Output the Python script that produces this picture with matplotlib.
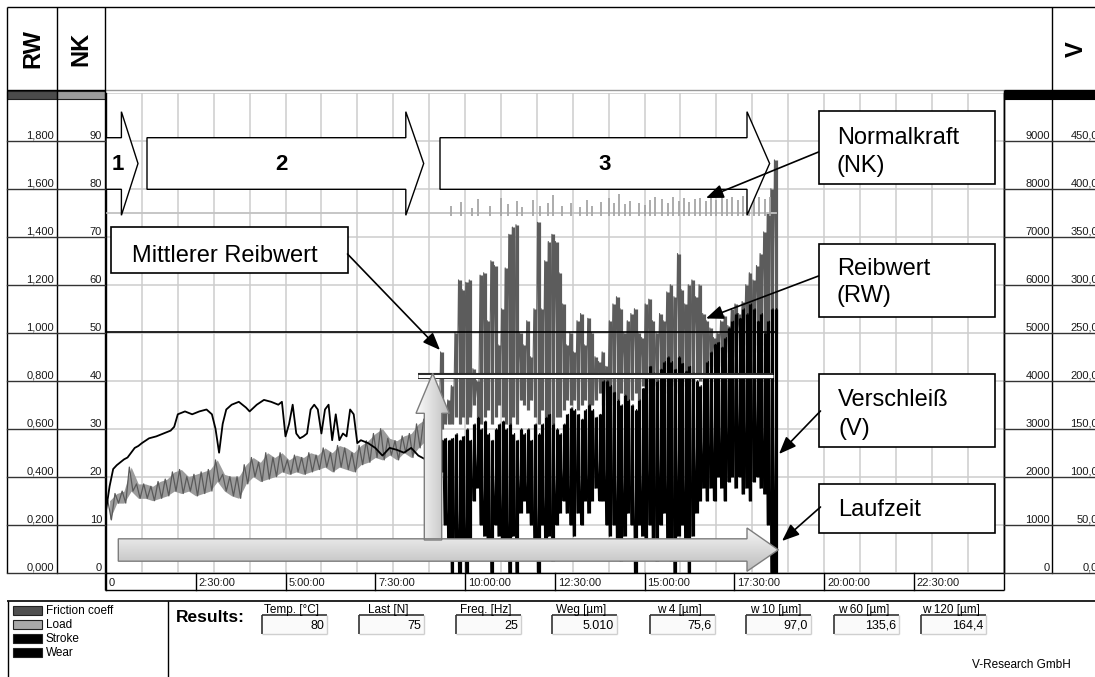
import numpy as np
import matplotlib
matplotlib.use("Agg")
import matplotlib.pyplot as plt
from matplotlib.patches import Polygon, Rectangle
from matplotlib.colors import LinearSegmentedColormap
from matplotlib.transforms import blended_transform_factory, offset_copy
import matplotlib.patheffects as pe

plt.rcParams['font.family'] = ['Liberation Sans', 'DejaVu Sans']

# ---------------- data ----------------
# phase 1/2 (0 - 9.2 h): friction coefficient band (min / max per 0.2 h bin)
fric_early_t0 = 0.0
fric_early_step = 0.2
fric_early_lo = [0.22, 0.29, 0.29, 0.34, 0.31, 0.31, 0.30, 0.31, 0.32, 0.34,
                 0.33, 0.34, 0.32, 0.33, 0.34, 0.38, 0.34, 0.32, 0.31, 0.37,
                 0.40, 0.38, 0.39, 0.40, 0.42, 0.41, 0.42, 0.41, 0.42, 0.43,
                 0.44, 0.42, 0.44, 0.43, 0.42, 0.45, 0.46, 0.48, 0.47, 0.49,
                 0.47, 0.50, 0.48, 0.52, 0.55, 0.58]
fric_early_hi = [0.30, 0.33, 0.34, 0.44, 0.37, 0.37, 0.36, 0.38, 0.39, 0.42,
                 0.43, 0.40, 0.41, 0.42, 0.43, 0.47, 0.41, 0.40, 0.40, 0.45,
                 0.48, 0.46, 0.50, 0.48, 0.50, 0.47, 0.49, 0.48, 0.50, 0.49,
                 0.52, 0.50, 0.53, 0.52, 0.50, 0.53, 0.55, 0.58, 0.60, 0.56,
                 0.55, 0.57, 0.58, 0.62, 0.64, 0.68]

# wear (um) in the early phase
wear_early_t = [0.0, 0.1, 0.2, 0.3, 0.4, 0.5, 0.6, 0.7, 0.8, 0.9, 1.0, 1.2, 1.4,
                1.6, 1.8, 1.9, 2.0, 2.2, 2.4, 2.6, 2.8, 2.95, 3.05, 3.15, 3.25,
                3.35, 3.5, 3.7, 3.9, 4.0, 4.2, 4.4, 4.6, 4.8, 4.9, 5.0, 5.1, 5.2,
                5.3, 5.4, 5.5, 5.6, 5.7, 5.8, 5.9, 6.0, 6.1, 6.2, 6.3, 6.4, 6.5,
                6.6, 6.7, 6.8, 6.9, 7.0, 7.1, 7.3, 7.5, 7.7, 7.9, 8.1, 8.3, 8.5,
                8.7, 8.9, 9.1]
wear_early_um = [65, 90, 108, 112, 115, 118, 120, 125, 130, 132, 135, 140, 142,
                 145, 148, 152, 165, 168, 165, 168, 170, 165, 150, 125, 155,
                 170, 175, 178, 172, 168, 175, 180, 178, 175, 178, 142, 155, 175,
                 145, 140, 142, 145, 170, 175, 170, 145, 170, 175, 138, 165, 138,
                 145, 142, 170, 165, 135, 138, 135, 130, 122, 130, 128, 125, 130,
                 122, 118, 125]

# phase 3 (9.2 - 18.7 h): min / max per 0.1 h bin
late_t0 = 9.2
late_step = 0.1
fric_late_hi = [0.66, 0.92, 0.68, 0.72, 0.78, 1.00, 1.22, 1.18, 1.21, 1.22,
                0.85, 0.80, 1.24, 1.25, 1.05, 1.30, 1.28, 0.95, 1.10, 1.27,
                1.41, 1.44, 1.45, 1.00, 0.95, 1.05, 0.90, 1.10, 1.46, 1.10,
                1.30, 1.38, 1.41, 1.38, 1.25, 1.12, 0.95, 1.00, 0.92, 1.05,
                1.08, 0.95, 1.06, 1.00, 0.90, 0.88, 0.92, 0.86, 1.05, 1.12,
                1.15, 1.10, 1.00, 1.05, 1.08, 1.10, 1.00, 0.98, 1.12, 1.14,
                1.05, 1.00, 1.08, 1.05, 1.17, 1.20, 1.15, 1.33, 1.18, 1.12,
                1.20, 1.22, 1.15, 1.20, 1.08, 1.05, 1.02, 0.98, 1.00, 1.05,
                1.07, 1.03, 1.10, 1.12, 1.08, 1.13, 1.20, 1.25, 1.22, 1.28,
                1.33, 1.42, 1.50, 1.60, 1.72]
fric_late_lo = [0.55, 0.60, 0.62, 0.62, 0.62, 0.65, 0.62, 0.65, 0.62, 0.65,
                0.70, 0.65, 0.62, 0.65, 0.68, 0.62, 0.65, 0.70, 0.65, 0.62,
                0.62, 0.65, 0.62, 0.72, 0.70, 0.68, 0.72, 0.65, 0.62, 0.68,
                0.65, 0.62, 0.62, 0.65, 0.65, 0.68, 0.72, 0.70, 0.72, 0.68,
                0.70, 0.72, 0.68, 0.70, 0.72, 0.75, 0.70, 0.72, 0.70, 0.72,
                0.72, 0.75, 0.74, 0.72, 0.72, 0.75, 0.72, 0.78, 0.75, 0.76,
                0.78, 0.80, 0.76, 0.78, 0.75, 0.78, 0.80, 0.75, 0.78, 0.80,
                0.78, 0.80, 0.82, 0.80, 0.82, 0.84, 0.86, 0.85, 0.88, 0.86,
                0.90, 0.92, 0.90, 0.92, 0.95, 0.92, 0.95, 0.90, 0.92, 0.95,
                0.95, 0.92, 0.95, 1.00, 1.00]
wear_late_hi = [135, 138, 140, 138, 140, 145, 138, 142, 150, 138,
                155, 162, 150, 158, 145, 138, 150, 155, 158, 150,
                155, 145, 138, 150, 145, 150, 138, 155, 145, 155,
                162, 165, 155, 150, 145, 155, 165, 172, 170, 165,
                160, 170, 175, 170, 162, 165, 200, 200, 195, 188,
                180, 175, 185, 180, 175, 170, 180, 192, 205, 215,
                208, 200, 212, 220, 225, 220, 212, 225, 218, 210,
                215, 208, 200, 195, 205, 220, 230, 238, 240, 235,
                245, 255, 262, 270, 265, 275, 270, 280, 275, 262,
                270, 250, 262, 275, 275]
wear_late_lo = [112, 105, 50, 25, 0, 12, 0, 12, 0, 25,
                75, 88, 50, 38, 25, 0, 50, 38, 25, 12,
                0, 38, 0, 62, 75, 62, 50, 25, 0, 50,
                25, 38, 12, 50, 62, 75, 62, 50, 38, 62,
                50, 75, 62, 75, 88, 75, 75, 50, 38, 50,
                25, 12, 38, 62, 50, 0, 50, 38, 25, 50,
                25, 12, 50, 62, 25, 12, 0, 38, 50, 25,
                0, 38, 62, 75, 88, 75, 88, 75, 100, 88,
                75, 95, 100, 88, 100, 82, 88, 75, 95, 100,
                88, 82, 50, 0, 0]

# load (N): constant line plus short spikes in phase 3
load_t = [0.0, 18.65]
load_n = [75, 75]
load_spike_t = [9.6, 9.9, 10.2, 10.35, 10.7, 11.0, 11.2, 11.45, 11.6, 11.9,
                12.1, 12.3, 12.45, 12.7, 12.95, 13.2, 13.4, 13.55, 13.8, 14.0,
                14.15, 14.3, 14.45, 14.6, 14.85, 15.0, 15.15, 15.3, 15.5, 15.65,
                15.8, 15.95, 16.1, 16.25, 16.4, 16.55, 16.7, 16.85, 17.0, 17.15,
                17.3, 17.45, 17.6, 17.75, 17.9, 18.05, 18.2, 18.35, 18.5]
load_spike_n = [76.5, 77.2, 76.0, 77.8, 76.4, 78.0, 76.8, 77.4, 76.2, 77.6,
                76.5, 77.0, 78.6, 76.3, 77.0, 76.2, 77.6, 76.5, 77.2, 78.0,
                77.0, 78.8, 76.8, 77.4, 77.0, 76.6, 77.6, 78.2, 77.8, 77.0,
                78.3, 77.4, 78.0, 77.2, 77.8, 78.1, 77.5, 78.0, 77.6, 78.4,
                77.8, 78.2, 77.6, 78.5, 78.0, 77.7, 78.3, 77.9, 78.2]

stroke_t = [0.0, 18.65]
stroke_val = [5010, 5010]

mean_rw = 0.82
mean_t = [8.69, 18.58]

# axis labels
rw_ticks = [0.0, 0.2, 0.4, 0.6, 0.8, 1.0, 1.2, 1.4, 1.6, 1.8]
nk_ticks = [0, 10, 20, 30, 40, 50, 60, 70, 80, 90]
stroke_ticks = [0, 1000, 2000, 3000, 4000, 5000, 6000, 7000, 8000, 9000]
wear_ticks = [0, 50, 100, 150, 200, 250, 300, 350, 400, 450]
time_ticks = [0, 2.5, 5, 7.5, 10, 12.5, 15, 17.5, 20, 22.5]
time_labels = ["0", "2:30:00", "5:00:00", "7:30:00", "10:00:00", "12:30:00",
               "15:00:00", "17:30:00", "20:00:00", "22:30:00"]

legend_names = ["Friction coeff", "Load", "Stroke", "Wear"]
legend_colors = ["#505050", "#a9a9a9", "#000000", "#000000"]

field_labels = ["Temp. [°C]", "Last [N]", "Freq. [Hz]", "Weg [µm]",
                "w 4 [µm]", "w 10 [µm]", "w 60 [µm]", "w 120 [µm]"]
field_values = ["80", "75", "25", "5.010", "75,6", "97,0", "135,6", "164,4"]

# ---------------- layout (pixels) ----------------
W, H = 1095, 677
PL, PR, PT, PB = 106.0, 1003.5, 92.7, 572.7

fig = plt.figure(figsize=(W / 100, H / 100), dpi=100)
ax = fig.add_axes([PL / W, (H - PB) / H, (PR - PL) / W, (PB - PT) / H])
ax.set_xlim(0, 25)
ax.set_ylim(0, 2.0)
ax.set_xticks(np.arange(0, 26, 1))
ax.set_yticks(np.arange(0, 2.01, 0.2))
ax.tick_params(length=0, labelbottom=False, labelleft=False)
ax.grid(True, color='#cdcdcd', lw=1.1)
ax.set_axisbelow(True)
for s in ['left', 'right', 'bottom']:
    ax.spines[s].set_color('black')
    ax.spines[s].set_linewidth(1.0)
ax.spines['top'].set_visible(False)

ax_v = ax.twinx()
ax_v.set_ylim(0, 500)
ax_nk = ax.twinx()
ax_nk.set_ylim(0, 100)
ax_st = ax.twinx()
ax_st.set_ylim(0, 10000)
for a in (ax_v, ax_nk, ax_st):
    a.axis('off')

# friction coefficient: early noisy band, late spikes
t_e = fric_early_t0 + fric_early_step * np.arange(len(fric_early_lo))
ax.fill_between(t_e + 0.1, fric_early_lo, fric_early_hi, color='#9c9c9c', lw=0)
xs = np.column_stack([t_e + 0.05, t_e + 0.15]).ravel()
ys = np.column_stack([fric_early_hi, fric_early_lo]).ravel()
ax.plot(xs, ys, color='#5a5a5a', lw=0.9)
t_l = late_t0 + late_step / 2 + late_step * np.arange(len(fric_late_hi))
ax.vlines(t_l, fric_late_lo, fric_late_hi, colors='#5c5c5c', lw=2.3)
xs = np.column_stack([t_l - 0.03, t_l + 0.03]).ravel()
ys = np.column_stack([fric_late_hi, fric_late_lo]).ravel()
ax.plot(xs, ys, color='#5c5c5c', lw=0.8)

# wear
ax_v.plot(wear_early_t, wear_early_um, color='black', lw=1.3)
ax_v.vlines(t_l, wear_late_lo, wear_late_hi, colors='black', lw=2.3)
ys = np.column_stack([wear_late_lo, wear_late_hi]).ravel()
ax_v.plot(xs, ys, color='black', lw=0.8)

# load
ax_nk.plot(load_t, load_n, color='#c2c2c2', lw=1.3)
ax_nk.vlines(load_spike_t, 74.3, load_spike_n, colors='#a6a6a6', lw=1.3)

# stroke
ax_st.plot(stroke_t, stroke_val, color='black', lw=1.2)

# ---------------- overlay (pixel coordinates) ----------------
ov = fig.add_axes([0, 0, 1, 1], zorder=10)
ov.patch.set_visible(False)
ov.axis('off')


def line(x, y, c='black', lw=1.0, **kw):
    ov.plot(x, y, color=c, lw=lw, solid_capstyle='butt', **kw)


# header
line([7.3, W], [7.3, 7.3])
line([7.3, 105], [90, 90])
line([105, 1004], [90, 90], c='#9a9a9a')
line([1004, W], [90, 90])
for x in (7.3, 56.7, 105):
    line([x, x], [7.3, 572.7])
line([105, 105], [572.7, 590])
line([1052.3, 1052.3], [7.3, 90])
line([1052.3, 1052.3], [99.3, 572.7])
line([1004, 1004], [90, 590])
ov.add_patch(Rectangle((7.3, 91.2), 49.4, 8, facecolor='#4b4b4b', edgecolor='#222', lw=0.8))
ov.add_patch(Rectangle((56.7, 91.2), 48.3, 8, facecolor='#9c9c9c', edgecolor='#222', lw=0.8))
ov.add_patch(Rectangle((1004, 91.2), 95, 8, facecolor='black', edgecolor='black', lw=0.8))
ov.text(32.5, 49, "RW", rotation=90, ha='center', va='center', fontsize=17, fontweight='bold')
ov.text(81, 49, "NK", rotation=90, ha='center', va='center', fontsize=17, fontweight='bold')
ov.text(1076.7, 49, "V", rotation=90, ha='center', va='center', fontsize=17, fontweight='bold')

# axis label columns
tr_rw = blended_transform_factory(ov.transData, ax.transData)
tr_nk = blended_transform_factory(ov.transData, ax_nk.transData)
tr_st = blended_transform_factory(ov.transData, ax_st.transData)
tr_v = blended_transform_factory(ov.transData, ax_v.transData)
lab_kw = dict(ha='right', va='baseline', fontsize=8, color='#1a1a1a')
for v in rw_ticks:
    ov.plot([7.3, 56.7], [v, v], color='#333', lw=1.0, transform=tr_rw)
    ov.text(54, v, f"{v:.3f}".replace('.', ','),
            transform=offset_copy(tr_rw, fig=fig, y=2, units='dots'), **lab_kw)
for v in nk_ticks:
    ov.plot([56.7, 105], [v, v], color='#333', lw=1.0, transform=tr_nk)
    ov.text(102, v, f"{v}", transform=offset_copy(tr_nk, fig=fig, y=2, units='dots'), **lab_kw)
for v in stroke_ticks:
    ov.plot([1004, 1052.3], [v, v], color='#333', lw=1.0, transform=tr_st)
    ov.text(1050, v, f"{v}", transform=offset_copy(tr_st, fig=fig, y=2, units='dots'), **lab_kw)
for v in wear_ticks:
    ov.plot([1052.3, W], [v, v], color='#333', lw=1.0, transform=tr_v)
    ov.text(1098, v, f"{v:.1f}".replace('.', ','),
            transform=offset_copy(tr_v, fig=fig, y=2, units='dots'), **lab_kw)

# time axis strip
tr_t = blended_transform_factory(ax.transData, ov.transData)
line([105, 1004], [590, 590])
for t, lab in zip(time_ticks, time_labels):
    ov.plot([t, t], [572.7, 590], color='black', lw=1.0, transform=tr_t)
    ov.text(t, 586, lab, ha='left', va='baseline', fontsize=8, color='#1a1a1a',
            transform=offset_copy(tr_t, fig=fig, x=3, units='dots'))

# phase arrows 1, 2, 3
phase_arrows = [
    [(106, 137.7), (121.4, 137.7), (121.4, 111.7), (138, 163.5), (121.4, 215.3), (121.4, 189.3), (106, 189.3)],
    [(147, 137.7), (405.8, 137.7), (405.8, 111.7), (423.7, 163.5), (405.8, 215.3), (405.8, 189.3), (147, 189.3)],
    [(440, 137.7), (747, 137.7), (747, 111.7), (769.6, 163.5), (747, 215.3), (747, 189.3), (440, 189.3)],
]
for verts, lab, tx in zip(phase_arrows, ["1", "2", "3"], [117.5, 281, 604.5]):
    ov.add_patch(Polygon(verts, closed=True, facecolor='white', edgecolor='black', lw=1.0))
    ov.text(tx, 165, lab, ha='center', va='center', fontsize=16, fontweight='bold')

# mean friction line
ov.plot(mean_t, [mean_rw, mean_rw], color='white', lw=2.2, transform=ax.transData,
        solid_capstyle='butt',
        path_effects=[pe.Stroke(linewidth=4.4, foreground='#2a2a2a'), pe.Normal()])


def gradient_arrow(verts, along, c0, c1):
    poly = Polygon(verts, closed=True, facecolor='none', edgecolor='#7d7d7d', lw=1.0, zorder=6)
    ov.add_patch(poly)
    xs_ = [p[0] for p in verts]
    ys_ = [p[1] for p in verts]
    g = np.linspace(0, 1, 64)
    g = g.reshape(64, 1) if along == 'y' else g.reshape(1, 64)
    cmap = LinearSegmentedColormap.from_list('g', [c0, c1])
    im = ov.imshow(g, cmap=cmap, extent=(min(xs_), max(xs_), max(ys_), min(ys_)),
                   origin='upper', aspect='auto', interpolation='bilinear', zorder=5)
    im.set_clip_path(poly)


gradient_arrow([(424.3, 540), (424.3, 413.3), (416, 413.3), (432.7, 373.3),
                (449.3, 413.3), (441.7, 413.3), (441.7, 540)], 'x', '#fbfbfb', '#bdbdbd')
gradient_arrow([(118.3, 538.8), (747, 538.8), (747, 528), (778.3, 549.8),
                (747, 571.3), (747, 561.2), (118.3, 561.2)], 'y', '#f7f7f7', '#bcbcbc')

# annotation boxes
boxes = [(819, 111, 176, 73), (819, 244, 176, 73), (819, 374, 176, 73),
         (819, 484, 176, 49), (111, 227, 237, 46)]
for x0, y0, w, h in boxes:
    ov.add_patch(Rectangle((x0, y0), w, h, facecolor='white', edgecolor='black', lw=1.2, zorder=7))
txt_kw = dict(ha='left', va='baseline', fontsize=17, zorder=8)
ov.text(837, 144, "Normalkraft", **txt_kw)
ov.text(837, 172, "(NK)", **txt_kw)
ov.text(837, 275, "Reibwert", **txt_kw)
ov.text(837, 302, "(RW)", **txt_kw)
ov.text(838, 406.5, "Verschleiß", **txt_kw)
ov.text(838, 435, "(V)", **txt_kw)
ov.text(838, 516.5, "Laufzeit", **txt_kw)
ov.text(131.5, 261.5, "Mittlerer Reibwert", **txt_kw)

arrows = [((818.5, 152), (706, 198)), ((818.5, 276), (706, 318.5)),
          ((820.5, 411), (779, 454)), ((820.5, 507), (782, 541)),
          ((347.5, 254), (440, 350))]
for start, end in arrows:
    ov.annotate("", xy=end, xytext=start, zorder=8,
                arrowprops=dict(arrowstyle='-|>,head_length=0.75,head_width=0.3',
                                mutation_scale=14, lw=1.2, color='black',
                                shrinkA=0, shrinkB=0))

# bottom panel
line([7.3, W], [600.7, 600.7], lw=1.2)
line([7.9, 7.9], [600.7, H])
line([168, 168], [600.7, H])
for i, (name, col) in enumerate(zip(legend_names, legend_colors)):
    y0 = 606 + i * 14.0
    ov.add_patch(Rectangle((13.2, y0), 28.6, 8.5, facecolor=col, edgecolor='#222', lw=0.8))
    ov.text(45.7, y0 + 4.5, name, ha='left', va='center', fontsize=8.5)

ov.text(176, 618, "Results:", ha='left', va='center', fontsize=12.5, fontweight='bold')
field_x0 = [262, 359, 456, 552, 650, 746, 834, 921]
field_w = 65
for x0, lab, val in zip(field_x0, field_labels, field_values):
    x1 = x0 + field_w
    ov.add_patch(Rectangle((x0, 615), field_w, 18.5, facecolor='#fafafa', edgecolor='none'))
    line([x0, x1], [615, 615], c='#333', lw=1.2)
    line([x0, x0], [615, 633.5], c='#333', lw=1.2)
    line([x1, x1], [615, 633.5], c='#cfcfcf', lw=1.0)
    line([x0, x1], [633.5, 633.5], c='#cfcfcf', lw=1.0)
    ov.text((x0 + x1) / 2 - 3, 612.5, lab, ha='center', va='baseline', fontsize=8.5)
    ov.text(x1 - 3, 629, val, ha='right', va='baseline', fontsize=9)

ov.text(1071, 665, "V-Research GmbH", ha='right', va='center', fontsize=8.5)

ov.set_xlim(0, W)
ov.set_ylim(H, 0)

fig.savefig("out.png", dpi=100)
